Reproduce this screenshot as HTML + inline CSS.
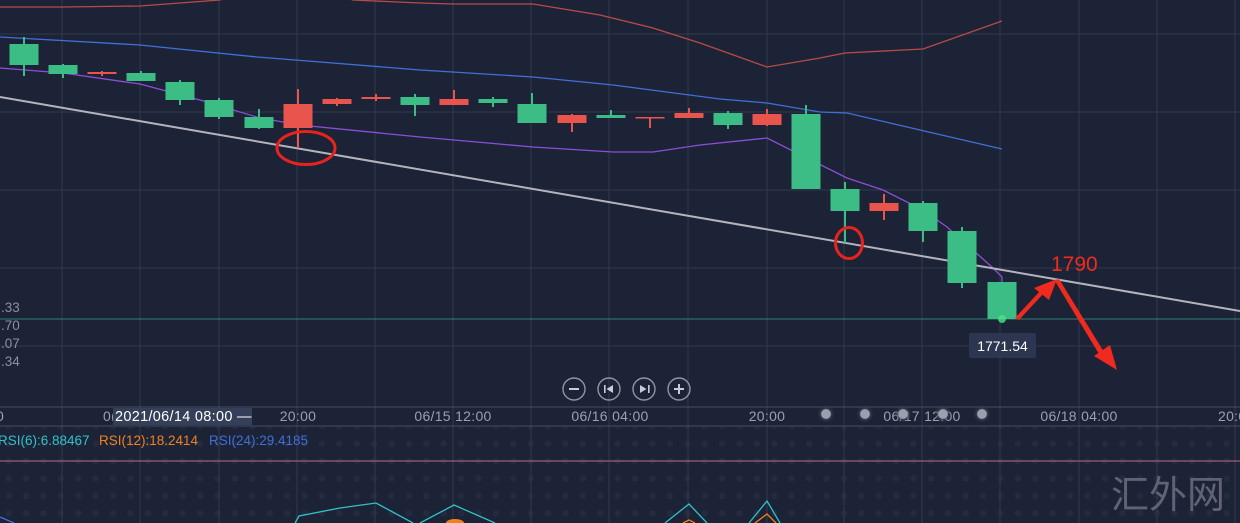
<!DOCTYPE html>
<html><head><meta charset="utf-8">
<style>
html,body{margin:0;padding:0;background:#1d2336;}
svg{display:block;}
text{font-family:"Liberation Sans","Noto Sans CJK SC",sans-serif;}
</style></head>
<body>
<svg width="1240" height="523" viewBox="0 0 1240 523" xmlns="http://www.w3.org/2000/svg">
<defs>
<pattern id="dots" x="0" y="0" width="17.4" height="17.4" patternUnits="userSpaceOnUse">
<circle cx="8.7" cy="8.7" r="3.2" fill="#242b40"/>
</pattern>
<radialGradient id="glow"><stop offset="0" stop-color="#9aa0ad"/><stop offset="0.5" stop-color="#9aa0ad"/><stop offset="0.58" stop-color="#4a5062" stop-opacity="0.6"/><stop offset="1" stop-color="#2a3144" stop-opacity="0"/></radialGradient>
</defs>
<rect width="1240" height="523" fill="#1d2336"/>
<rect x="0" y="427" width="1240" height="96" fill="url(#dots)"/>
<!-- grid -->
<g stroke="#323a4f" stroke-width="1">
<line x1="0" y1="34" x2="1240" y2="34"/>
<line x1="0" y1="112" x2="1240" y2="112"/>
<line x1="0" y1="190" x2="1240" y2="190"/>
<line x1="0" y1="268" x2="1240" y2="268"/>
<line x1="0" y1="346" x2="1240" y2="346"/>
<line x1="62" y1="0" x2="62" y2="523"/>
<line x1="140" y1="0" x2="140" y2="523"/>
<line x1="219" y1="0" x2="219" y2="523"/>
<line x1="297" y1="0" x2="297" y2="523"/>
<line x1="375" y1="0" x2="375" y2="523"/>
<line x1="453" y1="0" x2="453" y2="523"/>
<line x1="531" y1="0" x2="531" y2="523"/>
<line x1="609" y1="0" x2="609" y2="523"/>
<line x1="688" y1="0" x2="688" y2="523"/>
<line x1="767" y1="0" x2="767" y2="523"/>
<line x1="844" y1="0" x2="844" y2="523"/>
<line x1="922" y1="0" x2="922" y2="523"/>
<line x1="1000" y1="0" x2="1000" y2="523"/>
<line x1="1079" y1="0" x2="1079" y2="523"/>
<line x1="1157" y1="0" x2="1157" y2="523"/>
<line x1="1235" y1="0" x2="1235" y2="523"/>
</g>
<!-- axis lines -->
<line x1="0" y1="407" x2="1240" y2="407" stroke="#454d63" stroke-width="1"/>
<line x1="0" y1="426" x2="1240" y2="426" stroke="#454d63" stroke-width="1"/>
<line x1="0" y1="461" x2="1240" y2="461" stroke="#a05a78" stroke-width="1.3"/>
<!-- price line -->
<line x1="0" y1="319" x2="1240" y2="319" stroke="#2f7f72" stroke-width="1"/>
<!-- left labels -->
<g fill="#8a90a0" font-size="13.5">
<text x="1" y="312">.33</text>
<text x="1" y="330">.70</text>
<text x="1" y="348">.07</text>
<text x="1" y="366">.34</text>
</g>
<!-- moving average lines -->
<polyline fill="none" stroke="#b84a48" stroke-width="1.3" points="0,7 62,7 140,6 220,0 230,-4 340,-4 353,0 420,3 453,4 533,4 600,15 653,28 700,43 767,67 820,58 845,53 923,49 1002,21"/>
<polyline fill="none" stroke="#3f6fd8" stroke-width="1.3" points="0,37 140,45 257,57 333,63 420,70 533,77 613,85 720,99 767,103 820,112 847,113 920,130 1002,149"/>
<polyline fill="none" stroke="#8b4ed8" stroke-width="1.3" points="0,68 63,73 140,84 200,100 260,118 300,125 420,137 533,147 613,152 653,152 700,145 767,138 847,178 883,190 923,210 947,227 993,268 1002,277 1002,282"/>
<!-- trendline -->
<line x1="0" y1="97" x2="1240" y2="311" stroke="#b4b4bc" stroke-width="2"/>
<!-- candles -->
<g>
<g fill="#3dbd86">
<rect x="23" y="37" width="2" height="39"/><rect x="9.5" y="44" width="29" height="21"/>
<rect x="62" y="64" width="2" height="14"/><rect x="48.5" y="65" width="29" height="9"/>
<rect x="140" y="71" width="2" height="10"/><rect x="126.5" y="73" width="29" height="8"/>
<rect x="179" y="80" width="2" height="25"/><rect x="165.5" y="82" width="29" height="18"/>
<rect x="218" y="98" width="2" height="21"/><rect x="204.5" y="100" width="29" height="17"/>
<rect x="258" y="109" width="2" height="20"/><rect x="244.5" y="117" width="29" height="11"/>
<rect x="414" y="94" width="2" height="22"/><rect x="400.5" y="97" width="29" height="8"/>
<rect x="492" y="97" width="2" height="10"/><rect x="478.5" y="99" width="29" height="4"/>
<rect x="531" y="93" width="2" height="30"/><rect x="517.5" y="104" width="29" height="19"/>
<rect x="610" y="110" width="2" height="8"/><rect x="596.5" y="115" width="29" height="3"/>
<rect x="727" y="111" width="2" height="18"/><rect x="713.5" y="113" width="29" height="12"/>
<rect x="805" y="105" width="2" height="84"/><rect x="791.5" y="114" width="29" height="75"/>
<rect x="844" y="182" width="2" height="61"/><rect x="830.5" y="189" width="29" height="22"/>
<rect x="922" y="201" width="2" height="41"/><rect x="908.5" y="203" width="29" height="28"/>
<rect x="961" y="227" width="2" height="61"/><rect x="947.5" y="231" width="29" height="52"/>
<rect x="987.5" y="282" width="29" height="37"/>
</g>
<g fill="#e9554d">
<rect x="101" y="71" width="2" height="5"/><rect x="87.5" y="72" width="29" height="2"/>
<rect x="297" y="89" width="2" height="59"/><rect x="283.5" y="104" width="29" height="24"/>
<rect x="336" y="98" width="2" height="8"/><rect x="322.5" y="99" width="29" height="5"/>
<rect x="375" y="94" width="2" height="7"/><rect x="361.5" y="97" width="29" height="2"/>
<rect x="453" y="90" width="2" height="15"/><rect x="439.5" y="99" width="29" height="6"/>
<rect x="571" y="114" width="2" height="18"/><rect x="557.5" y="115" width="29" height="8"/>
<rect x="649" y="117" width="2" height="11"/><rect x="635.5" y="117" width="29" height="1.5"/>
<rect x="688" y="108" width="2" height="10"/><rect x="674.5" y="113" width="29" height="5"/>
<rect x="766" y="109" width="2" height="17"/><rect x="752.5" y="114" width="29" height="11"/>
<rect x="883" y="194" width="2" height="26"/><rect x="869.5" y="203" width="29" height="8"/>
</g>
</g>
<circle cx="1002" cy="319" r="4" fill="#4be38a" opacity="0.8"/>
<!-- annotations -->
<ellipse cx="306" cy="148" rx="29" ry="16.5" fill="none" stroke="#e8231d" stroke-width="3"/>
<ellipse cx="849" cy="243" rx="13.5" ry="15.5" fill="none" stroke="#e8231d" stroke-width="3"/>
<g fill="#f02a1e">
<polygon points="1015,318 1019,320 1044,293 1041,290"/>
<polygon points="1057,279 1034,288 1049,300"/>
<polygon points="1055,281 1059,279 1104,352 1099,354"/>
<polygon points="1117,370 1094,356 1110,345"/>
</g>
<text x="1051" y="271" font-size="21" fill="#f02a1e">1790</text>
<!-- price tag -->
<rect x="969" y="333" width="67" height="25" rx="2" fill="#2c3650"/>
<text x="1002.5" y="351" font-size="14" fill="#ffffff" text-anchor="middle">1771.54</text>
<!-- zoom buttons -->
<g fill="none" stroke="#8f95a5" stroke-width="1.4">
<circle cx="574" cy="389" r="11"/>
<circle cx="609" cy="389" r="11"/>
<circle cx="644" cy="389" r="11"/>
<circle cx="679" cy="389" r="11"/>
</g>
<g fill="#c8ccd6">
<rect x="569" y="388" width="10" height="2"/>
<rect x="674" y="388" width="10" height="2"/><rect x="678" y="384" width="2" height="10"/>
<rect x="604" y="385" width="1.6" height="8"/><polygon points="613,385 613,393 606.5,389"/>
<rect x="648" y="385" width="1.6" height="8"/><polygon points="640,385 640,393 646.5,389"/>
</g>
<!-- time axis labels -->
<g fill="#9aa0af" font-size="14" letter-spacing="0.3">
<text x="-4" y="421">0</text>
<text x="103" y="421">0(</text>
<text x="298" y="421" text-anchor="middle">20:00</text>
<text x="453" y="421" text-anchor="middle">06/15 12:00</text>
<text x="610" y="421" text-anchor="middle">06/16 04:00</text>
<text x="767" y="421" text-anchor="middle">20:00</text>
<text x="922" y="421" text-anchor="middle">06/17 12:00</text>
<text x="1079" y="421" text-anchor="middle">06/18 04:00</text>
<text x="1218" y="421">20:00</text>
</g>
<rect x="113" y="408" width="139" height="17" fill="#344059"/>
<text x="115" y="421" font-size="14.5" fill="#ffffff" letter-spacing="0.3">2021/06/14 08:00 —</text>
<!-- scroll dots -->
<g>
<circle cx="826" cy="414" r="9" fill="url(#glow)"/>
<circle cx="865" cy="414" r="9" fill="url(#glow)"/>
<circle cx="903" cy="414" r="9" fill="url(#glow)"/>
<circle cx="943" cy="414" r="9" fill="url(#glow)"/>
<circle cx="982" cy="414" r="9" fill="url(#glow)"/>
</g>
<!-- RSI legend -->
<text x="-2" y="445" font-size="13.5" fill="#2fc3c8">RSI(6):6.88467</text>
<text x="99" y="445" font-size="13.5" fill="#f0821e">RSI(12):18.2414</text>
<text x="209" y="445" font-size="13.5" fill="#3f6fd8">RSI(24):29.4185</text>
<!-- RSI lines -->
<g fill="none" stroke-width="1.3">
<polyline stroke="#2fc3c8" points="295,523 299,516 340,508 376,503 413,523"/>
<polyline stroke="#2fc3c8" points="420,523 454,505 495,523"/>
<polyline stroke="#2fc3c8" points="665,523 689,504 707,523"/>
<polyline stroke="#2fc3c8" points="749,523 767,501 780,523"/>
<polyline stroke="#3f6fd8" points="0,517 14,523"/>
<polyline stroke="#f0821e" points="755,523 767,514 776,523"/>
<polyline stroke="#f0821e" points="683,523 689,520 695,523"/>
</g>
<ellipse cx="455" cy="523" rx="9" ry="4" fill="#f0821e"/>
<!-- watermark -->
<text x="1111" y="508" font-size="38" fill="#5e6472" font-family="'Noto Serif CJK SC','Noto Sans CJK SC',serif">汇外网</text>
</svg>
</body></html>
